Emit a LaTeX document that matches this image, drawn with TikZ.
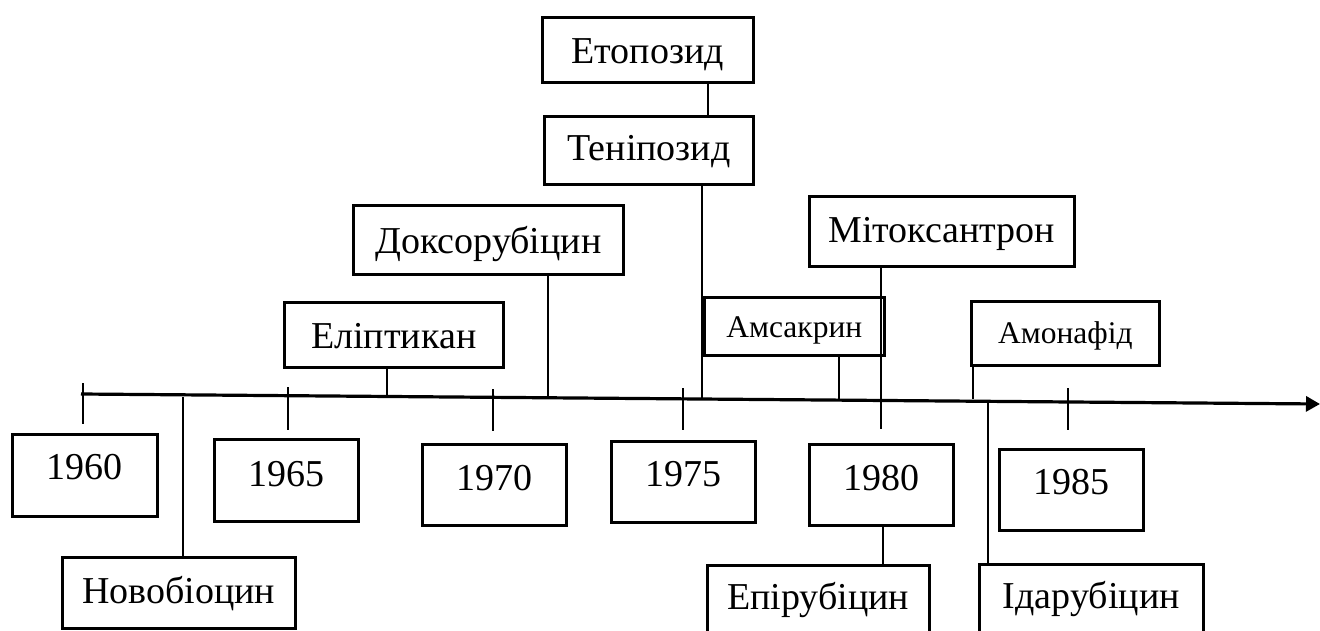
\documentclass[tikz,border=0pt]{standalone}
\usepackage{fontspec}
\setmainfont{Liberation Serif}
\usetikzlibrary{arrows.meta}
\begin{document}
\begin{tikzpicture}[x=1pt,y=-1pt,
  box/.style={draw, line width=2.6pt, inner sep=0pt, anchor=north west,
    font=\fontsize{38}{40}\selectfont},
  smallbox/.style={box, font=\fontsize{31.5}{33}\selectfont},
  link/.style={line width=2.6pt},
  axisline/.style={line width=3.2pt, -{Triangle[length=14pt,width=15pt]}}]
\useasboundingbox (0,0) rectangle (1320,630);
\clip (0,0) rectangle (1320,630);

% time axis
\coordinate (ax0) at (81,394);
\coordinate (ax1) at (1320,404);
\draw[axisline] (ax0) -- (ax1);

% year ticks
\foreach \n/\x/\a/\b in {60/83/383/424, 65/288/387/430, 70/493/389/431,
                          75/683/388/430, 85/1068/388/430} {
  \coordinate (tk\n a) at (\x,\a);
  \coordinate (tk\n b) at (\x,\b);
  \draw[link] (tk\n a) -- (tk\n b);
}

% year boxes
\node[box, minimum width=145pt, text height=45pt, text depth=37pt] (y1960) at (11,433) {1960};
\node[box, minimum width=144pt, text height=47pt, text depth=35pt] (y1965) at (213,438) {1965};
\node[box, minimum width=144pt, text height=46pt, text depth=35pt] (y1970) at (421,443) {1970};
\node[box, minimum width=144pt, text height=45pt, text depth=36pt] (y1975) at (610,440) {1975};
\node[box, minimum width=144pt, text height=46pt, text depth=35pt] (y1980) at (808,443) {1980};
\node[box, minimum width=144pt, text height=45pt, text depth=36pt] (y1985) at (998,448) {1985};

% drug boxes
\node[box, minimum width=233pt, text height=46pt, text depth=25pt] (novob) at (61,556) {Новобіоцин};
\node[box, minimum width=219pt, text height=46pt, text depth=19pt] (elipt) at (283,301) {Еліптикан};
\node[box, minimum width=270pt, text height=48pt, text depth=21pt] (doxo) at (352,204) {Доксорубіцин};
\node[box, minimum width=211pt, text height=46pt, text depth=19pt] (etop) at (541,16) {Етопозид};
\node[box, minimum width=209pt, text height=44pt, text depth=24pt] (tenip) at (543,115) {Теніпозид};
\node[smallbox, minimum width=180pt, text height=40pt, text depth=18pt] (amsa) at (703,296) {Амсакрин};
\node[box, minimum width=265pt, text height=46pt, text depth=24pt] (mitox) at (808,195) {Мітоксантрон};
\node[smallbox, minimum width=188pt, text height=42pt, text depth=22pt] (amon) at (970,300) {Амонафід};
\node[box, minimum width=222pt, text height=44pt, text depth=40pt] (epir) at (706,564) {Епірубіцин};
\node[box, minimum width=224pt, text height=44pt, text depth=40pt] (idar) at (978,563) {Ідарубіцин};

% connectors between boxes and the axis
\coordinate (pNov) at (183,397);
\draw[link] (pNov) -- (novob.north -| pNov);
\coordinate (pEl) at (387,396);
\draw[link] (elipt.south -| pEl) -- (pEl);
\coordinate (pDx) at (548,398);
\draw[link] (doxo.south -| pDx) -- (pDx);
\coordinate (xEt) at (708,100);
\draw[link] (etop.south -| xEt) -- (tenip.north -| xEt);
\coordinate (pTn) at (702,399);
\draw[link] (tenip.south -| pTn) -- (pTn);
\coordinate (pAm) at (839,400);
\draw[link] (amsa.south -| pAm) -- (pAm);
\coordinate (pMx) at (881,429);
\draw[link] (mitox.south -| pMx) -- (pMx);
\coordinate (xEp) at (883,540);
\draw[link] (y1980.south -| xEp) -- (epir.north -| xEp);
\coordinate (pAn) at (973,399);
\draw[link] (amon.south -| pAn) -- (pAn);
\coordinate (pId) at (988,403);
\draw[link] (pId) -- (idar.north -| pId);
\end{tikzpicture}
\end{document}
